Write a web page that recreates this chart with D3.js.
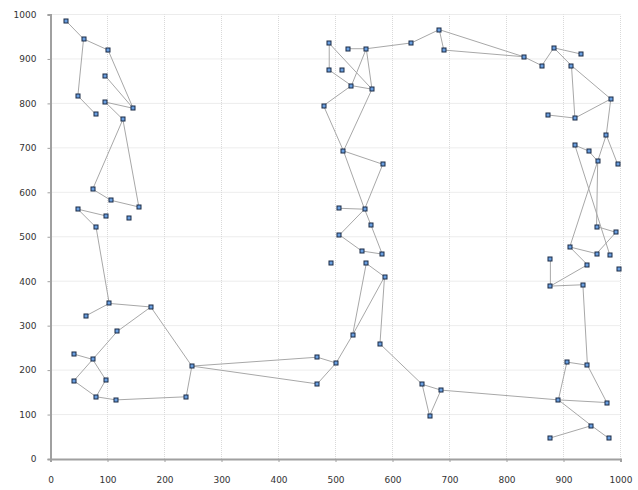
<!DOCTYPE html>
<html><head><meta charset="utf-8">
<script src="https://cdn.jsdelivr.net/npm/d3@7"></script>
<style>html,body{margin:0;padding:0;background:#fff;}svg{display:block;}</style>
</head><body>
<svg id="chart" width="638" height="490"></svg>
<script>
const pointX = [27,58,101,96,48,79,96,145,127,74,106,155,48,97,137,80,103,62,176,117,41,74,41,97,80,115,238,248,468,501,468,530,554,586,578,652,665,685,492,507,546,582,562,507,551,514,583,479,528,564,489,511,489,522,554,633,682,690,830,862,883,931,914,983,872,920,975,920,944,960,995,958,992,911,958,981,877,942,997,877,934,906,942,891,976,949,876,979];
const pointY = [986,945,920,862,817,776,803,789,764,607,582,567,562,547,542,521,350,322,342,287,236,224,176,178,140,133,140,209,229,216,169,279,440,410,259,168,97,155,440,504,468,461,527,564,562,693,663,795,840,832,875,875,935,923,923,936,966,920,905,885,925,911,885,810,774,767,729,706,693,670,663,523,510,477,462,460,449,437,427,389,392,218,211,133,127,75,47,47];
const edgeFrom = [0,1,1,4,2,3,6,6,8,8,9,10,12,12,15,16,16,18,19,20,21,21,22,23,24,25,26,18,27,27,28,30,29,31,31,32,33,34,35,36,35,37,39,40,41,52,52,53,54,54,54,50,48,48,47,49,45,45,43,44,44,46,55,56,56,57,58,59,60,60,62,62,64,65,63,66,66,67,68,67,69,69,71,72,73,73,77,79,79,80,81,81,82,83,83,85,85];
const edgeTo   = [1,2,4,5,7,7,7,8,9,11,10,11,13,15,16,17,18,19,21,21,22,23,24,24,25,26,27,27,28,30,29,29,31,32,33,33,34,35,36,37,37,83,40,41,42,50,49,54,55,48,49,48,49,47,45,45,46,44,44,39,42,44,56,57,58,58,59,60,61,62,65,63,65,63,66,69,70,68,69,75,71,73,72,74,74,77,79,76,80,82,82,83,84,84,85,86,87];
const xTicks = [0,100,200,300,400,500,600,700,800,900,1000];
const yTicks = [0,100,200,300,400,500,600,700,800,900,1000];

const svg = d3.select("#chart");
const x = d3.scaleLinear().domain([0,1000]).range([50.5,620.5]);
const y = d3.scaleLinear().domain([0,1000]).range([459,14.5]);

// grid
const grid = svg.append("g");
grid.selectAll("line.vx").data(xTicks.slice(1)).enter().append("line")
  .attr("x1",d=>x(d)).attr("x2",d=>x(d)).attr("y1",y(0)).attr("y2",y(1000))
  .attr("stroke","#d9d9d9").attr("stroke-width",1).attr("stroke-dasharray","1,1");
grid.selectAll("line.hy").data(yTicks.slice(1)).enter().append("line")
  .attr("y1",d=>y(d)).attr("y2",d=>y(d)).attr("x1",x(0)).attr("x2",x(1000))
  .attr("stroke","#d9d9d9").attr("stroke-width",1).attr("stroke-dasharray","1,1");

// axes
const xAxis = svg.append("g").attr("transform",`translate(0,${y(0)})`)
  .call(d3.axisBottom(x).tickValues(xTicks).tickSize(3).tickPadding(15).tickFormat(d3.format("d")));
const yAxis = svg.append("g").attr("transform",`translate(${x(0)},0)`)
  .call(d3.axisLeft(y).tickValues(yTicks).tickSize(3).tickPadding(11).tickFormat(d3.format("d")));
[xAxis,yAxis].forEach(a=>{
  a.select(".domain").attr("stroke","#a0a0a0").attr("stroke-width",2);
  a.selectAll(".tick line").attr("stroke","#a0a0a0");
  a.selectAll("text").attr("fill","#333").style("font-family","'DejaVu Sans', Verdana, sans-serif").style("font-size","9px");
});

// edges
svg.append("g").selectAll("line").data(edgeFrom.map((f,i)=>[f,edgeTo[i]])).enter().append("line")
  .attr("x1",d=>x(pointX[d[0]])).attr("y1",d=>y(pointY[d[0]]))
  .attr("x2",d=>x(pointX[d[1]])).attr("y2",d=>y(pointY[d[1]]))
  .attr("stroke","#a8a8a8").attr("stroke-width",1);

// points
svg.append("g").selectAll("rect").data(pointX.map((v,i)=>[v,pointY[i]])).enter().append("rect")
  .attr("x",d=>Math.round(x(d[0]))-2).attr("y",d=>Math.round(y(d[1]))-2)
  .attr("width",4).attr("height",4)
  .attr("fill","#6a9fe0").attr("stroke","#1b2a44").attr("stroke-width",1);
</script>
</body></html>
